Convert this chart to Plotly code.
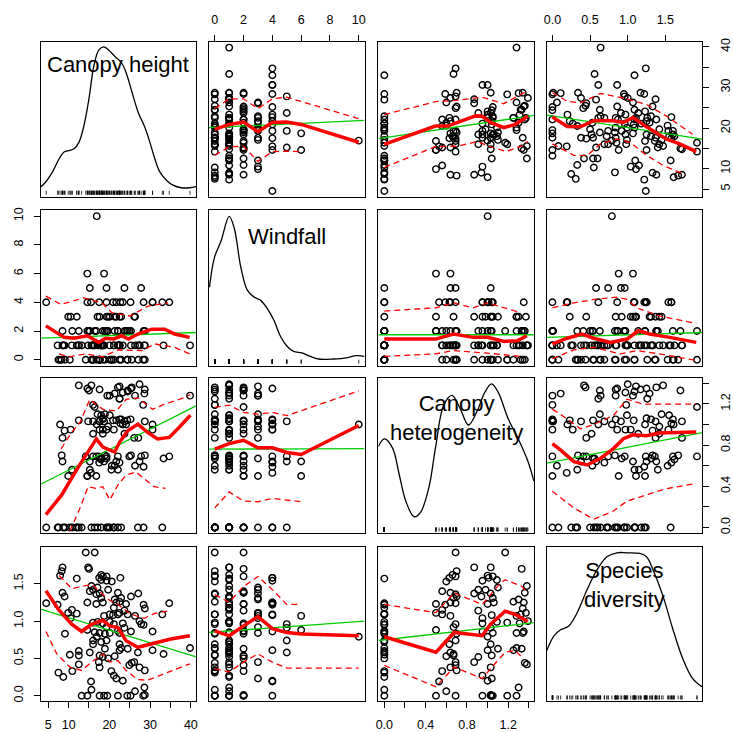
import numpy as np
import plotly.graph_objects as go

# ---------------- data (one value per plot/site) ----------------
canopy_height = [14.2, 16.4, 8.5, 8.3, 14.8, 15.0, 7.9, 12.0, 18.0, 18.4, 19.3, 17.5, 18.0, 19.3, 20.6, 22.7,
                 15.6, 17.1, 15.2, 16.0, 8.5, 9.0, 16.8, 17.6, 18.0, 19.7, 22.1, 22.9, 25.3, 27.1, 4.5, 7.3,
                 14.6, 16.8, 18.4, 21.3, 21.7, 22.5, 21.1, 24.1, 28.4, 28.7, 34.7, 10.8, 9.9, 12.0, 18.7, 20.1,
                 20.9, 22.1, 22.5, 23.7, 24.5, 26.3, 27.4, 27.8, 28.4, 33.0, 10.5, 16.0, 17.1, 18.4, 19.3, 20.1,
                 21.1, 23.3, 23.7, 22.1, 14.6, 9.1, 16.4, 17.6, 18.9, 20.1, 22.5, 25.3, 30.6, 16.0, 16.9, 16.0,
                 18.0, 19.3, 22.5, 22.9, 24.5, 27.0, 30.6, 33.3, 39.8, 10.3, 12.5, 12.5, 15.2, 17.6, 18.4, 19.7,
                 18.9, 22.5, 21.3, 17.4, 17.6, 12.5, 10.9, 7.5, 8.7, 20.5, 21.1, 21.7, 23.3, 24.9, 25.5, 26.1,
                 27.4, 28.7, 28.6, 15.5, 15.6, 13.2, 14.6, 17.6, 18.7, 19.5, 22.1, 24.4, 25.2, 26.3, 28.3, 28.7]
windfall = [0, 2, 1, 0, 1, 2, 0, 1, 1, 0, 2, 4, 1, 4, 0, 4,
            1, 3, 2, 1, 2, 1, 0, 3, 1, 3, 2, 3, 1, 0, 4, 1,
            4, 2, 1, 3, 4, 0, 1, 2, 4, 1, 4, 1, 3, 3, 6, 0,
            4, 1, 3, 2, 0, 3, 1, 5, 2, 4, 3, 0, 1, 2, 3, 1,
            0, 1, 5, 2, 6, 0, 1, 0, 2, 3, 1, 2, 4, 1, 10, 0,
            1, 5, 1, 0, 2, 1, 4, 1, 1, 0, 1, 2, 5, 0, 1, 2,
            0, 1, 2, 1, 0, 1, 2, 0, 1, 0, 1, 3, 4, 2, 0, 3,
            1, 0, 1, 4, 0, 1, 2, 0, 1, 2, 1, 0, 4, 1, 0, 2]
canopy_heterogeneity = [0.69, 1.17, 0.87, 0.70, 1.03, 1.33, 1.00, 0.00, 0.66, 1.05, 0.69, 0.63, 1.09, 0.95, 0.60, 1.01,
                        1.38, 1.10, 0.56, 0.91, 0.64, 0.94, 0.69, 1.03, 0.67, 0.98, 1.36, 1.05, 0.70, 0.87, 0.00, 0.00,
                        1.35, 0.50, 1.06, 1.30, 0.64, 1.25, 0.00, 1.00, 0.59, 1.34, 0.69, 0.56, 0.50, 0.00, 0.64, 0.00,
                        1.04, 0.56, 1.37, 0.91, 1.32, 1.28, 1.39, 0.69, 0.00, 0.00, 0.95, 1.19, 0.00, 0.95, 0.67, 1.09,
                        0.00, 1.31, 1.03, 0.00, 0.50, 0.00, 0.00, 1.34, 0.70, 1.28, 1.05, 1.35, 0.95, 0.69, 1.00, 1.03,
                        0.00, 0.00, 0.63, 0.00, 1.33, 0.00, 1.00, 0.67, 1.28, 0.00, 0.00, 1.04, 0.64, 0.67, 0.91, 0.00,
                        1.10, 1.25, 0.60, 0.69, 1.03, 1.38, 0.00, 0.00, 0.00, 0.56, 0.95, 1.04, 1.00, 0.69, 1.36, 0.87,
                        0.64, 0.70, 1.30, 0.53, 0.00, 0.00, 0.50, 0.95, 1.03, 1.28, 0.69, 1.04, 1.05, 0.60, 1.19, 1.03]
species_diversity = [1.92, 1.92, 1.72, 1.67, 1.72, 1.70, 1.61, 1.57, 1.62, 1.60, 1.60, 1.58, 1.55, 1.54, 1.53, 1.58,
                     1.47, 1.45, 1.40, 1.42, 1.38, 1.33, 1.36, 1.37, 1.31, 1.42, 1.38, 1.31, 1.33, 1.37, 1.24, 1.22,
                     1.25, 1.23, 1.25, 1.29, 1.25, 1.26, 1.18, 1.23, 1.22, 1.17, 1.24, 1.15, 1.11, 1.10, 1.07, 1.09,
                     1.08, 1.09, 1.11, 1.14, 1.09, 1.07, 1.00, 0.96, 0.95, 1.09, 1.04, 0.98, 0.99, 0.97, 0.92, 0.99,
                     0.96, 0.97, 0.91, 0.87, 0.88, 0.83, 0.85, 0.84, 0.83, 0.84, 0.84, 0.86, 0.86, 0.74, 0.79, 0.69,
                     0.72, 0.74, 0.69, 0.64, 0.63, 0.58, 0.61, 0.56, 0.64, 0.55, 0.60, 0.54, 0.58, 0.54, 0.52, 0.50,
                     0.63, 0.61, 0.53, 0.45, 0.38, 0.42, 0.33, 0.31, 0.25, 0.33, 0.27, 0.23, 0.20, 0.41, 0.44, 0.45,
                     0.38, 0.34, 0.11, 0.19, 0.08, 0.00, 0.00, 0.00, 0.00, 0.00, 0.00, 0.00, 0.00, 0.06, 0.00, 0.01]

variables = [canopy_height, windfall, canopy_heterogeneity, species_diversity]
diag_labels = ["Canopy height", "Windfall", "Canopy<br>heterogeneity", "Species<br>diversity"]

# density curves on the diagonal (x in data units, y as share of panel height)
density_x = [
    [3.21, 4.43, 6.05, 7.67, 8.88, 10.1, 11.31, 12.53, 13.74, 14.96, 16.17, 17.39, 18.6, 19.82, 21.44, 23.06,
     24.28, 25.49, 27.11, 28.73, 29.95, 31.16, 32.38, 34.0, 35.62, 37.65, 39.67, 41.29],
    [-0.37, -0.025, 0.436, 1.0, 1.35, 1.81, 2.27, 2.73, 3.19, 3.65, 4.1, 4.57, 5.03, 5.48, 6.06, 6.63, 7.2,
     8.24, 9.16, 9.84, 10.4],
    [-0.0575, 0.0, 0.08, 0.144, 0.207, 0.288, 0.351, 0.431, 0.495, 0.575, 0.655, 0.735, 0.815, 0.895, 0.974,
     1.038, 1.102, 1.198, 1.294, 1.39, 1.448],
    [-0.075, 0.021, 0.109, 0.218, 0.329, 0.46, 0.592, 0.724, 0.855, 0.987, 1.162, 1.25, 1.337, 1.47, 1.6,
     1.732, 1.863, 1.987],
]
density_y = [
    [0.064, 0.096, 0.159, 0.244, 0.287, 0.297, 0.308, 0.35, 0.456, 0.626, 0.839, 0.945, 0.966, 0.945, 0.902,
     0.86, 0.786, 0.679, 0.541, 0.446, 0.35, 0.244, 0.159, 0.106, 0.074, 0.057, 0.057, 0.064],
    [0.505, 0.696, 0.803, 0.962, 0.887, 0.633, 0.484, 0.441, 0.42, 0.367, 0.293, 0.187, 0.123, 0.091, 0.081,
     0.059, 0.042, 0.042, 0.049, 0.064, 0.059],
    [0.561, 0.609, 0.55, 0.38, 0.21, 0.108, 0.136, 0.295, 0.55, 0.826, 0.89, 0.804, 0.699, 0.783, 0.911, 0.964,
     0.911, 0.741, 0.613, 0.465, 0.338],
    [0.329, 0.425, 0.464, 0.489, 0.575, 0.724, 0.853, 0.938, 0.964, 0.964, 0.96, 0.938, 0.853, 0.681, 0.468,
     0.276, 0.147, 0.094],
]

# linear fit (green) at the left and right plot edges: (row, col) -> (y_left, y_right)
linear_fit = {
    (0, 1): (20.1, 21.9), (0, 2): (17.4, 23.1), (0, 3): (23.2, 17.3),
    (1, 0): (1.51, 1.90), (1, 2): (1.74, 1.74), (1, 3): (1.56, 1.90),
    (2, 0): (0.42, 1.18), (2, 1): (0.760, 0.766), (2, 3): (0.625, 0.92),
    (3, 0): (1.16, 0.52), (3, 1): (0.848, 1.0), (3, 2): (0.74, 0.98),
}

smooth_mid = {
    (0, 1): ([0, 1, 2, 3, 4, 5, 6, 10], [19.7, 20.9, 21.5, 19.1, 21.4, 21.5, 20.9, 16.5]),
    (0, 2): ([0, 0.245, 0.494, 0.612, 0.724, 0.884, 0.948, 1.028, 1.156, 1.267, 1.389],
             [16.0, 18.3, 20.5, 20.5, 21.5, 23.0, 22.9, 21.4, 20.1, 20.9, 22.9]),
    (0, 3): ([0, 0.197, 0.372, 0.548, 0.81, 0.943, 1.07, 1.25, 1.51, 1.69, 1.91],
             [22.7, 20.4, 20.3, 21.8, 21.8, 21.4, 22.6, 20.3, 17.3, 16.1, 14.2]),
    (1, 0): ([4.43, 8.9, 11.3, 14.6, 17.4, 19.0, 21.0, 23.0, 24.7, 27.0, 30.4, 33.6, 36.0, 39.7],
             [2.36, 1.56, 1.5, 1.67, 1.21, 1.5, 1.44, 1.67, 1.44, 1.79, 2.13, 2.13, 1.79, 1.56]),
    (1, 2): ([0, 0.495, 0.67, 0.86, 1.0, 1.16, 1.29, 1.38], [1.44, 1.44, 1.79, 1.56, 1.56, 1.28, 1.33, 1.67]),
    (1, 3): ([0, 0.197, 0.39, 0.55, 0.77, 0.99, 1.14, 1.29, 1.56, 1.91],
             [1.1, 1.5, 1.79, 1.5, 1.21, 1.44, 2.02, 1.79, 1.56, 1.21]),
    (2, 0): ([4.43, 8.3, 12.4, 15.6, 16.8, 18.4, 20.1, 21.3, 22.5, 24.5, 27.0, 29.4, 31.8, 34.7, 37.1, 39.9],
             [0.125, 0.316, 0.588, 0.78, 0.86, 0.78, 0.748, 0.732, 0.827, 0.94, 1.004, 0.923, 0.86, 0.875, 0.971, 1.09]),
    (2, 1): ([0, 1, 2, 3, 4, 5, 6, 10], [0.76, 0.814, 0.847, 0.773, 0.773, 0.728, 0.709, 0.99]),
    (2, 3): ([0, 0.11, 0.285, 0.46, 0.636, 0.81, 0.943, 1.07, 1.25, 1.42, 1.91],
             [0.814, 0.751, 0.639, 0.607, 0.67, 0.766, 0.862, 0.9, 0.89, 0.917, 0.926]),
    (3, 0): ([4.43, 7.5, 10.75, 13.2, 15.6, 18.4, 20.06, 22.1, 24.1, 27.0, 30.2, 35.1, 39.75],
             [1.408, 1.157, 0.958, 0.861, 0.958, 1.011, 0.936, 0.914, 0.737, 0.649, 0.693, 0.76, 0.804]),
    (3, 1): ([0, 1, 2, 3, 4, 5, 6, 10], [0.869, 0.803, 0.936, 1.06, 0.9, 0.848, 0.826, 0.803]),
    (3, 2): ([0, 0.5, 0.676, 0.948, 1.028, 1.17, 1.267, 1.389], [0.79, 0.583, 0.848, 0.804, 0.958, 1.134, 1.09, 0.994]),
}
smooth_hi = {
    (0, 1): ([0, 1, 2, 3, 4, 5, 10], [24.8, 27.2, 27.2, 24.8, 27.2, 27.6, 22.3]),
    (0, 2): ([0, 0.494, 0.7, 0.948, 1.156, 1.36], [23.3, 26.5, 26.8, 27.6, 26.0, 28.8]),
    (0, 3): ([0, 0.197, 0.372, 0.636, 0.943, 1.25, 1.51, 1.86], [28.7, 26.6, 26.2, 28.5, 27.4, 25.8, 23.0, 18.5]),
    (1, 0): ([4.43, 8.1, 13.75, 18.2, 20.6, 25.1, 29.5, 34.4], [4.43, 3.85, 4.31, 3.96, 3.28, 3.05, 3.74, 3.96]),
    (1, 2): ([0, 0.495, 0.67, 0.86, 1.0, 1.16, 1.32], [3.39, 3.62, 3.96, 3.62, 3.96, 3.62, 3.28]),
    (1, 3): ([0, 0.285, 0.55, 0.855, 0.99, 1.12, 1.42, 1.91], [3.62, 3.96, 4.2, 4.36, 4.2, 3.62, 3.05, 2.52]),
    (2, 0): ([8.15, 10.75, 12.8, 15.2, 18.4, 21.7, 24.1, 27.0, 30.6, 33.4, 38.3, 39.9],
             [0.764, 0.923, 1.02, 1.243, 1.147, 1.131, 1.243, 1.259, 1.147, 1.195, 1.259, 1.291]),
    (2, 1): ([0, 1, 2, 3, 4, 5, 10], [1.166, 1.188, 1.117, 1.1, 1.117, 1.086, 1.326]),
    (2, 3): ([0, 0.197, 0.372, 0.548, 0.81, 0.99, 1.21, 1.91], [1.149, 1.054, 0.958, 1.0, 1.086, 1.245, 1.197, 1.197]),
    (3, 0): ([7.67, 10.75, 14.4, 16.0, 18.4, 20.1, 22.1, 25.3, 28.6, 31.0, 34.2],
             [1.612, 1.435, 1.479, 1.479, 1.355, 1.276, 1.223, 1.091, 1.038, 1.1, 1.135]),
    (3, 1): ([0, 1, 2, 3, 4, 5, 6], [1.355, 1.253, 1.465, 1.598, 1.422, 1.223, 1.223]),
    (3, 2): ([0, 0.5, 0.676, 0.948, 1.11, 1.17, 1.33, 1.389], [1.223, 1.113, 1.378, 1.223, 1.488, 1.554, 1.466, 1.378]),
}
smooth_lo = {
    (0, 1): ([0, 1, 2, 3, 4, 5, 6], [13.3, 15.4, 15.5, 11.8, 14.2, 14.3, 14.2]),
    (0, 2): ([0, 0.494, 0.724, 0.9, 1.028, 1.18, 1.33, 1.389], [10.3, 15.4, 15.6, 16.7, 15.4, 14.2, 15.6, 16.7]),
    (0, 3): ([0, 0.285, 0.46, 0.636, 0.855, 1.03, 1.25, 1.47, 1.73], [16.1, 13.3, 13.2, 16.1, 17.3, 16.5, 13.3, 10.8, 8.8]),
    (1, 0): ([7.67, 10.1, 14.3, 18.2, 22.2, 27.9, 31.2, 36.0, 39.7], [0.41, 0.2, 0.41, 0.2, 0.69, 0.64, 1.1, 0.87, 0.41]),
    (1, 2): ([0, 0.495, 0.67, 1.0, 1.32], [0.23, 0.41, 0.64, 0.46, 0.23]),
    (1, 3): ([0, 0.285, 0.55, 0.9, 1.12, 1.42, 1.91], [0.07, 0.69, 0.87, 0.41, 0.64, 0.41, -0.05]),
    (2, 0): ([10.3, 12.8, 14.8, 16.8, 18.4, 20.1, 22.1, 24.1, 26.5, 29.4, 31.0, 33.8],
             [-0.035, 0.189, 0.396, 0.38, 0.396, 0.268, 0.412, 0.508, 0.54, 0.444, 0.396, 0.38]),
    (2, 1): ([0, 1, 2, 3, 4, 6], [0.19, 0.345, 0.256, 0.25, 0.282, 0.25]),
    (2, 3): ([0, 0.285, 0.548, 0.81, 0.99, 1.25, 1.51, 1.86], [0.351, 0.19, 0.08, 0.16, 0.256, 0.32, 0.377, 0.421]),
    (3, 0): ([4.43, 7.1, 10.3, 13.2, 15.6, 18.4, 20.1, 22.1, 24.1, 27.0, 29.4, 33.4, 39.75],
             [0.861, 0.561, 0.384, 0.339, 0.45, 0.561, 0.45, 0.472, 0.339, 0.216, 0.208, 0.296, 0.428]),
    (3, 1): ([0, 1, 2, 3, 4, 5, 10], [0.362, 0.318, 0.45, 0.561, 0.45, 0.371, 0.371]),
    (3, 2): ([0, 0.5, 0.676, 0.948, 1.028, 1.17, 1.267, 1.347], [0.406, 0.119, 0.384, 0.23, 0.362, 0.583, 0.605, 0.495]),
}

tick_vals = [[5, 10, 15, 20, 25, 30, 35, 40], [0, 2, 4, 6, 8, 10],
             [0, 0.2, 0.4, 0.6, 0.8, 1.0, 1.2, 1.4], [0, 0.5, 1.0, 1.5]]
tick_text = [["5", "10", "", "20", "", "30", "", "40"], ["0", "2", "4", "6", "8", "10"],
             ["0.0", "", "0.4", "", "0.8", "", "1.2", ""], ["0.0", "0.5", "1.0", "1.5"]]

# ---------------- geometry ----------------
W, H = 733, 732
col_px = [(38, 195), (208, 365), (379, 536), (549, 706)]
row_px = [(38, 195), (209, 366), (379, 536), (550, 706)]
axis_range = [[3.13, 41.3], [-0.4, 10.4], [-0.0575, 1.448], [-0.075, 1.99]]
label_pos = [0.855, 0.83, 0.745, 0.752]

FONT = "Liberation Sans, Arial, sans-serif"
tickfont = dict(family=FONT, size=12.5, color="black")

fig = go.Figure()
layout = dict(width=W, height=H, margin=dict(l=0, r=0, t=0, b=0), autosize=False,
              paper_bgcolor="white", plot_bgcolor="white", showlegend=False, annotations=[])

for r in range(4):
    for c in range(4):
        k = r * 4 + c + 1
        sfx = "" if k == 1 else str(k)
        xr, yr = "x" + sfx, "y" + sfx
        x0, x1 = col_px[c]
        y0, y1 = row_px[r]
        base = dict(showgrid=False, zeroline=False, showline=True, mirror=True, linecolor="black",
                    linewidth=1, ticks="", showticklabels=False, fixedrange=True)
        xd = dict(base, domain=[x0 / W, x1 / W], range=axis_range[c], anchor=yr)
        yd = dict(base, domain=[1 - y1 / H, 1 - y0 / H], anchor=xr,
                  range=[0, 1] if r == c else axis_range[r])
        tick_common = dict(ticks="outside", ticklen=6, tickwidth=1, tickcolor="black",
                           tickmode="array", showticklabels=True, tickfont=tickfont,
                           ticklabelstandoff=6)
        if r == 0 and c in (1, 3):
            xd.update(tick_common, side="top", tickvals=tick_vals[c], ticktext=tick_text[c])
        if r == 3 and c in (0, 2):
            xd.update(tick_common, side="bottom", tickvals=tick_vals[c], ticktext=tick_text[c])
        if c == 0 and r in (1, 3):
            yd.update(tick_common, side="left", tickvals=tick_vals[r], ticktext=tick_text[r], tickangle=-90)
        if c == 3 and r in (0, 2):
            yd.update(tick_common, side="right", tickvals=tick_vals[r], ticktext=tick_text[r], tickangle=-90)
        layout["xaxis" + sfx] = xd
        layout["yaxis" + sfx] = yd

        if r == c:
            fig.add_trace(go.Scatter(x=density_x[c], y=density_y[c], mode="lines", xaxis=xr, yaxis=yr,
                                     line=dict(color="black", width=1.3, shape="spline"), hoverinfo="skip"))
            rx, ry = [], []
            for v in variables[c]:
                rx += [v, v, None]
                ry += [0.012, 0.038, None]
            fig.add_trace(go.Scatter(x=rx, y=ry, mode="lines", xaxis=xr, yaxis=yr,
                                     line=dict(color="black", width=0.8), hoverinfo="skip"))
            layout["annotations"].append(dict(text=diag_labels[c], xref=xr + " domain", yref=yr + " domain",
                                              x=0.5, y=label_pos[c], showarrow=False, xanchor="center",
                                              yanchor="middle", font=dict(family=FONT, size=22, color="black")))
            continue

        xs = variables[c]
        ys = variables[r]
        fig.add_trace(go.Scatter(x=xs, y=ys, mode="markers", xaxis=xr, yaxis=yr,
                                 marker=dict(symbol="circle-open", size=6.5, color="black",
                                             line=dict(width=1.4, color="black")), hoverinfo="skip"))
        fy = linear_fit[(r, c)]
        fig.add_trace(go.Scatter(x=axis_range[c], y=list(fy), mode="lines", xaxis=xr, yaxis=yr,
                                 line=dict(color="#00CD00", width=1.3), hoverinfo="skip"))
        for d in (smooth_hi, smooth_lo):
            sx, sy = d[(r, c)]
            fig.add_trace(go.Scatter(x=sx, y=sy, mode="lines", xaxis=xr, yaxis=yr,
                                     line=dict(color="#FF0000", width=1.3, dash="6px,4px"), hoverinfo="skip"))
        sx, sy = smooth_mid[(r, c)]
        fig.add_trace(go.Scatter(x=sx, y=sy, mode="lines", xaxis=xr, yaxis=yr,
                                 line=dict(color="#FF0000", width=3.5), hoverinfo="skip"))

fig.update_layout(**layout)
fig.write_html("out.html", config={"displayModeBar": False, "staticPlot": True},
               post_script="document.body.style.margin='0px';document.body.style.padding='0px';")
